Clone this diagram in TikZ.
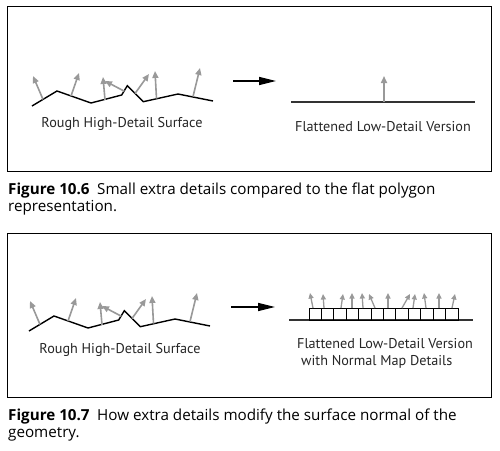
\documentclass[tikz,border=0pt]{standalone}
\usepackage{fontspec}
\setmainfont{PT Sans}
\newfontfamily\capfont{Open Sans}
\usetikzlibrary{arrows.meta}
\definecolor{ngray}{HTML}{999999}
\definecolor{fgray}{HTML}{333333}
\tikzset{
  frame/.style={draw=black, line width=0.8pt},
  surf/.style={draw=black, line width=1.4pt, line join=miter},
  flat/.style={draw=fgray, line width=1.4pt},
  normal/.style={draw=ngray, line width=1.6pt, -{Triangle[length=7pt,width=6pt]}},
  smallnormal/.style={draw=ngray, line width=1.3pt, -{Triangle[length=5.5pt,width=5pt]}},
  bigarrow/.style={draw=black, line width=1.4pt, -{Triangle[length=17pt,width=8pt]}},
  label/.style={font=\fontsize{14.2}{15}\selectfont, text=black!85, inner sep=0pt, anchor=base},
  caption/.style={font=\capfont\fontsize{15.2}{16}\selectfont, inner sep=0pt, anchor=base west},
  cell/.style={draw=black, line width=0.9pt}
}
\begin{document}
\begin{tikzpicture}[x=1pt,y=-1pt]
\useasboundingbox (0,0) rectangle (500,450);
\fill[white] (0,0) rectangle (500,450);

% ---------- Figure 10.6 ----------
\draw[frame] (7,6) rectangle (491,171);
\foreach \s/\dy in {T/0, B/225} {
  \begin{scope}[shift={(0,\dy)}]
  \ifnum\dy>0 \begin{scope}[shift={(-3,0)}]\else\begin{scope}\fi
  \coordinate (p1\s) at (32,106);
  \coordinate (p2\s) at (57,91);
  \coordinate (p3\s) at (91,103);
  \coordinate (p4\s) at (121.7,95);
  \coordinate (p5\s) at (127.3,85.7);
  \coordinate (p6\s) at (143.3,101.7);
  \coordinate (p7\s) at (178,94);
  \coordinate (p8\s) at (213,101);
  \draw[surf] (p1\s)--(p2\s)--(p3\s)--(p4\s)--(p5\s)--(p6\s)--(p7\s)--(p8\s);
  \coordinate (b1\s) at (43,99.4);   \coordinate (t1\s) at (33,76);
  \coordinate (b2\s) at (71,96);     \coordinate (t2\s) at (79,73);
  \coordinate (b3\s) at (105,99.8);  \coordinate (t3\s) at (103,77);
  \coordinate (b4\s) at (124.3,91.2);\coordinate (t4\s) at (105,81);
  \coordinate (b5\s) at (135,93.5);  \coordinate (t5\s) at (149,74);
  \coordinate (b6\s) at (156.5,98.7);\coordinate (t6\s) at (155,71);
  \coordinate (b7\s) at (193,96.6);  \coordinate (t7\s) at (200,68);
  \foreach \i in {1,...,7} { \draw[normal] (b\i\s) -- (t\i\s); }
  \end{scope}
  \end{scope}
}

\coordinate (arrTs) at (233,81);
\coordinate (arrTe) at (276,81);
\draw[bigarrow] (arrTs) -- (arrTe);

\coordinate (flTs) at (291,102);
\coordinate (flTe) at (475,102);
\draw[flat] (flTs) -- (flTe);
\coordinate (nTb) at (384,102);
\coordinate (nTt) at (384,76);
\draw[normal] (nTb) -- (nTt);

\node[label] (roughT) at (122,127) {Rough High-Detail Surface};
\node[label] (flatT) at (383,131) {Flattened Low-Detail Version};

\node[caption] (cap1a) at (8,194.5) {\textbf{Figure 10.6}\hspace{0.5em}Small extra details compared to the flat polygon};
\node[caption] (cap1b) at (8,211) {representation.};

% ---------- Figure 10.7 ----------
\draw[frame] (7,233) rectangle (491,397);

\coordinate (arrBs) at (231,307);
\coordinate (arrBe) at (275,307);
\draw[bigarrow] (arrBs) -- (arrBe);

\coordinate (flBs) at (289,320);
\coordinate (flBe) at (473,320);
\draw[flat] (flBs) -- (flBe);
\foreach \k in {0,...,11} {
  \draw[cell] ({309+\k*12.42},308) rectangle ({309+(\k+1)*12.42},320);
}
\foreach \bx/\tx/\ty [count=\n] in {313/310/293, 324/323/294, 341/343/294, 352/352/293,
    363/362/293, 375/369/294, 388/388/293, 402/410/294, 413/415/294, 426/424/293,
    439/439/293, 452/455/294} {
  \coordinate (mb\n) at (\bx,308);
  \coordinate (mt\n) at (\tx,\ty);
  \draw[smallnormal] (mb\n) -- (mt\n);
}

\node[label] (roughB) at (120,353) {Rough High-Detail Surface};
\node[label, anchor=base west] (flatB1) at (297,348) {Flattened Low-Detail Version};
\node[label, anchor=base west] (flatB2) at (301,365) {with Normal Map Details};

\node[caption] (cap2a) at (8,420.5) {\textbf{Figure 10.7}\hspace{0.5em}How extra details modify the surface normal of the};
\node[caption] (cap2b) at (8,437) {geometry.};
\end{tikzpicture}
\end{document}
